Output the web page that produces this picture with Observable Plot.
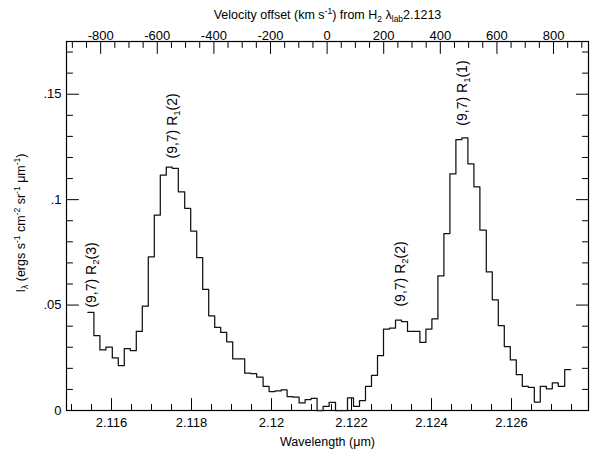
<!DOCTYPE html>
<html>
<head>
<meta charset="utf-8">
<script src="https://cdn.jsdelivr.net/npm/d3@7"></script>
<script src="https://cdn.jsdelivr.net/npm/@observablehq/plot@0.6"></script>
<style>
  html, body { margin: 0; padding: 0; background: #fff; }
  #chart svg { display: block; }
</style>
</head>
<body>
<div id="chart"></div>
<script>
// ---- data ----
// spectrum bin edges (μm) and binned intensity (one value per bin)
const binEdges = [
  2.11541, 2.11556, 2.11571, 2.11586, 2.11602, 2.11617, 2.11632, 2.11647, 2.11662, 2.11677,
  2.11692, 2.11707, 2.11722, 2.11737, 2.11752, 2.11767, 2.11783, 2.11798, 2.11813, 2.11828,
  2.11843, 2.11858, 2.11873, 2.11888, 2.11903, 2.11918, 2.11933, 2.11948, 2.11963, 2.11979,
  2.11994, 2.12009, 2.12024, 2.12039, 2.12054, 2.12069, 2.12084, 2.12099, 2.12114, 2.12129,
  2.12144, 2.12160, 2.12175, 2.12190, 2.12205, 2.12220, 2.12235, 2.12250, 2.12265, 2.12280,
  2.12295, 2.12310, 2.12325, 2.12340, 2.12356, 2.12371, 2.12386, 2.12401, 2.12416, 2.12431,
  2.12446, 2.12461, 2.12476, 2.12491, 2.12506, 2.12521, 2.12537, 2.12552, 2.12567, 2.12582,
  2.12597, 2.12612, 2.12627, 2.12642, 2.12657, 2.12672, 2.12687, 2.12702, 2.12717, 2.12733,
  2.12748
];
const intensity = [
  0.0465, 0.0355, 0.0287, 0.0300, 0.0249, 0.0213, 0.0293, 0.0284, 0.0375, 0.0495,
  0.0728, 0.0926, 0.1116, 0.1154, 0.1148, 0.1037, 0.0959, 0.0851, 0.0725, 0.0574,
  0.0449, 0.0394, 0.0370, 0.0326, 0.0245, 0.0245, 0.0177, 0.0175, 0.0158, 0.0114,
  0.0090, 0.0093, 0.0098, 0.0066, 0.0063, 0.0036, 0.0052, 0.0057, 0.0000, 0.0019,
  0.0039, 0.0000, 0.0000, 0.0060, 0.0019, 0.0047, 0.0114, 0.0167, 0.0260, 0.0386,
  0.0391, 0.0429, 0.0422, 0.0375, 0.0375, 0.0323, 0.0386, 0.0434, 0.0639, 0.0839,
  0.1122, 0.1285, 0.1293, 0.1170, 0.1061, 0.0855, 0.0657, 0.0525, 0.0402, 0.0303,
  0.0240, 0.0170, 0.0115, 0.0110, 0.0040, 0.0115, 0.0103, 0.0131, 0.0115, 0.0194
];

// line identifications
const lineLabels = ["(9,7) R_{2}(3)", "(9,7) R_{1}(2)", "(9,7) R_{2}(2)", "(9,7) R_{1}(1)"];
const lineLabelWavelength = [2.1155, 2.117525, 2.123225, 2.124775];
const lineLabelLevel = [0.0488, 0.1195, 0.0493, 0.1351];

// bottom axis (wavelength)
const wavelengthTicks = [2.116, 2.118, 2.12, 2.122, 2.124, 2.126];
const wavelengthMinorTicks = [2.115, 2.1155, 2.116, 2.1165, 2.117, 2.1175, 2.118, 2.1185, 2.119, 2.1195,
  2.12, 2.1205, 2.121, 2.1215, 2.122, 2.1225, 2.123, 2.1235, 2.124, 2.1245, 2.125, 2.1255,
  2.126, 2.1265, 2.127, 2.1275];

// left/right axis (intensity)
const yTicks = [0, 0.05, 0.1, 0.15];
const yTickLabels = ["0", ".05", ".1", ".15"];
const yMinorTicks = [0.01, 0.02, 0.03, 0.04, 0.06, 0.07, 0.08, 0.09, 0.11, 0.12, 0.13, 0.14, 0.16, 0.17];

// top axis (velocity offset, km/s)
const velocityTicks = [-800, -600, -400, -200, 0, 200, 400, 600, 800];
const velocityMinorTicks = [-900, -850, -750, -700, -650, -550, -500, -450, -350, -300, -250, -150, -100, -50,
  50, 100, 150, 250, 300, 350, 450, 500, 550, 650, 700, 750, 850, 900];
const lightSpeed = 299792.458;
const velocityZeroWavelength = 2.12139; // where the top axis zero is drawn

// titles
const xTitle = "Wavelength (μm)";
const topTitle = "Velocity offset (km s^{-1}) from H_{2} λ_{lab}2.1213";
const yTitle = "I_{λ} (ergs s^{-1} cm^{-2} sr^{-1} μm^{-1})";

// ---- build ----
const toWavelength = v => velocityZeroWavelength * (1 + v / lightSpeed);
const spectrum = binEdges.map((e, i) => ({wl: e, flux: intensity[Math.min(i, intensity.length - 1)]}));
const labels = lineLabels.map((t, i) => ({text: t, wl: lineLabelWavelength[i], y: lineLabelLevel[i]}));

const tickUp = {draw(ctx, l) { ctx.moveTo(0, 0); ctx.lineTo(0, -l); }};
const majorLen = 12, minorLen = 6;
function ticksX(values, anchor, len) {
  return Plot.vector(values, {x: d => d, frameAnchor: anchor, length: len, rotate: anchor === "bottom" ? 0 : 180,
    anchor: "start", shape: tickUp, stroke: "black", strokeWidth: 1});
}
function ticksY(values, anchor, len) {
  return Plot.vector(values, {y: d => d, frameAnchor: anchor, length: len, rotate: anchor === "left" ? 90 : -90,
    anchor: "start", shape: tickUp, stroke: "black", strokeWidth: 1});
}

const chart = Plot.plot({
  width: 590,
  height: 449,
  marginTop: 41,
  marginBottom: 39,
  marginLeft: 66,
  marginRight: 2,
  x: {domain: [2.114875, 2.127925]},
  y: {domain: [0, 0.175]},
  style: {fontFamily: "'Liberation Sans', Arial, Helvetica, sans-serif", fontSize: "13px", color: "black", background: "white"},
  marks: [
    Plot.frame({stroke: "black", strokeWidth: 1.2}),
    Plot.axisX(wavelengthTicks, {anchor: "bottom", tickSize: 0, tickPadding: 7, tickFormat: d => String(d), label: null}),
    Plot.axisY(yTicks, {anchor: "left", tickSize: 0, tickPadding: 5, tickFormat: d => yTickLabels[yTicks.indexOf(d)], label: null}),
    ticksX(wavelengthMinorTicks, "bottom", minorLen),
    ticksX(wavelengthTicks, "bottom", majorLen),
    ticksX(velocityMinorTicks.map(toWavelength), "top", minorLen),
    ticksX(velocityTicks.map(toWavelength), "top", majorLen),
    ticksY(yMinorTicks, "left", minorLen),
    ticksY(yTicks, "left", majorLen),
    ticksY(yMinorTicks, "right", minorLen),
    ticksY(yTicks, "right", majorLen),
    Plot.text(velocityTicks, {x: v => toWavelength(v), frameAnchor: "top", lineAnchor: "bottom", dy: -2, text: v => String(v)}),
    Plot.line(spectrum, {x: "wl", y: "flux", curve: "step-after", stroke: "#111", strokeWidth: 1.25}),
    Plot.text(labels, {x: "wl", y: "y", text: "text", rotate: -90, textAnchor: "start", lineAnchor: "middle", fontSize: 14}),
    Plot.text([xTitle], {frameAnchor: "bottom", dy: 31, lineAnchor: "middle", fontSize: 12.5}),
    Plot.text([topTitle], {frameAnchor: "top", dy: -27, lineAnchor: "middle", fontSize: 12.5}),
    Plot.text([yTitle], {frameAnchor: "left", dx: -46, dy: -3, rotate: -90, textAnchor: "middle", lineAnchor: "middle", fontSize: 12.5})
  ]
});

document.getElementById("chart").appendChild(chart);

// turn ^{..} / _{..} markup into super/subscript tspans
d3.select(chart).selectAll("text").each(function() {
  const s = this.textContent;
  if (!/[_^]\{/.test(s)) return;
  const fs = parseFloat(getComputedStyle(this).fontSize) || 13;
  this.textContent = "";
  const parts = [];
  const re = /([_^])\{([^}]*)\}/g;
  let last = 0, m;
  while ((m = re.exec(s))) {
    if (m.index > last) parts.push({t: s.slice(last, m.index), k: ""});
    parts.push({t: m[2], k: m[1]});
    last = re.lastIndex;
  }
  if (last < s.length) parts.push({t: s.slice(last), k: ""});
  let cur = 0;
  for (const p of parts) {
    const target = p.k === "^" ? -0.38 * fs : p.k === "_" ? 0.25 * fs : 0;
    const ts = d3.select(this).append("tspan").text(p.t);
    if (target !== cur) ts.attr("dy", (target - cur).toFixed(2));
    if (p.k) ts.attr("font-size", (fs * 0.68).toFixed(2));
    cur = target;
  }
});
</script>
</body>
</html>
